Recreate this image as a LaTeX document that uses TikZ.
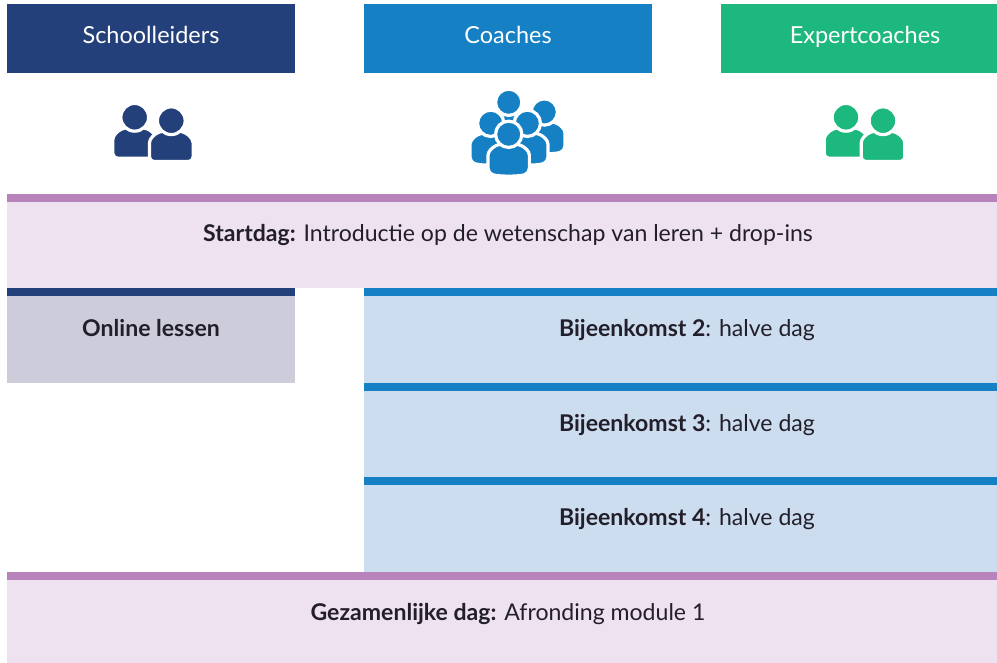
\documentclass[tikz,border=0pt]{standalone}
\usepackage{fontspec}
\setmainfont{Lato}
\definecolor{navy}{HTML}{24407A}
\definecolor{blauw}{HTML}{1580C4}
\definecolor{groen}{HTML}{1DB87E}
\definecolor{paars}{HTML}{B883BA}
\definecolor{lichtpaars}{HTML}{EEE2F0}
\definecolor{grijs}{HTML}{CCCCDB}
\definecolor{lichtblauw}{HTML}{CDDDF0}
\definecolor{tekst}{HTML}{231F2A}
\tikzset{%
    kop/.style={anchor=base,text=white,font=\fontsize{17.6}{20}\selectfont},
    txt/.style={anchor=base,text=tekst,font=\fontsize{17.3}{20}\selectfont},
    pics/persoon/.style n args={3}{code={
        \begin{scope}[scale=#2]
        \fill[#1,draw=white,line width=2.4pt,rounded corners=3.5pt]
            (-1.95,3.65) -- (-1.95,2.4) .. controls (-1.95,1.6) and (-1.5,1.2) .. (-0.8,0.9)
            -- (0.8,0.9) .. controls (1.5,1.2) and (1.95,1.6) .. (1.95,2.4) -- (1.95,3.65)
            .. controls (1,#3) and (-1,#3) .. (-1.95,3.65) -- cycle;
        \fill[#1,draw=white,line width=2.4pt] (0,0) circle (1.24);
        \end{scope}
    }}
}
\newcommand{\bold}[1]{{\fontseries{b}\selectfont #1}}
\begin{document}
\begin{tikzpicture}[x=0.75pt,y=-0.75pt]
    \useasboundingbox (0,0) rectangle (997,663);
    % koppen
    \fill[navy] (7,4) rectangle (295,73);
    \fill[blauw] (364,4) rectangle (652,73);
    \fill[groen] (721,4) rectangle (997,73);
    \node[kop] (schoolleiders) at (151,44) {Schoolleiders};
    \node[kop] (coaches) at (508,44) {Coaches};
    \node[kop] (expertcoaches) at (865,44) {Expertcoaches};
    % iconen
    \pic at (134.7,117.3) {persoon={navy}{11.2}{3.65}};
    \pic at (171.3,120.7) {persoon={navy}{11.2}{3.65}};
    \pic at (846,117.3) {persoon={groen}{11.2}{3.65}};
    \pic at (883,120.7) {persoon={groen}{11.2}{3.65}};
    \pic at (508.7,102.3) {persoon={blauw}{10.6}{4}};
    \pic at (544.3,112) {persoon={blauw}{10.6}{4}};
    \pic at (527.3,123.3) {persoon={blauw}{10.6}{4}};
    \pic at (490.7,123.3) {persoon={blauw}{10.6}{4}};
    \pic at (508.7,134.3) {persoon={blauw}{10.6}{4}};
    % startdag
    \fill[paars] (7,194) rectangle (997,202);
    \fill[lichtpaars] (7,202) rectangle (997,288);
    \node[txt] (startdag) at (508,242) {\bold{Startdag:} Introductie op de wetenschap van leren + drop-ins};
    % online
    \fill[navy] (7,288) rectangle (295,296);
    \fill[grijs] (7,296) rectangle (295,383);
    \node[txt] (online) at (151,336) {\bold{Online lessen}};
    % bijeenkomsten
    \fill[blauw] (364,288) rectangle (997,296);
    \fill[lichtblauw] (364,296) rectangle (997,383);
    \node[txt] (b2) at (687,336) {\bold{Bijeenkomst 2}: halve dag};
    \fill[blauw] (364,383) rectangle (997,391);
    \fill[lichtblauw] (364,391) rectangle (997,477);
    \node[txt] (b3) at (687,431) {\bold{Bijeenkomst 3}: halve dag};
    \fill[blauw] (364,477) rectangle (997,485);
    \fill[lichtblauw] (364,485) rectangle (997,572);
    \node[txt] (b4) at (687,525) {\bold{Bijeenkomst 4}: halve dag};
    % afronding
    \fill[paars] (7,572) rectangle (997,580);
    \fill[lichtpaars] (7,580) rectangle (997,663);
    \node[txt] (afronding) at (508,620) {\bold{Gezamenlijke dag:} Afronding module 1};
\end{tikzpicture}
\end{document}
